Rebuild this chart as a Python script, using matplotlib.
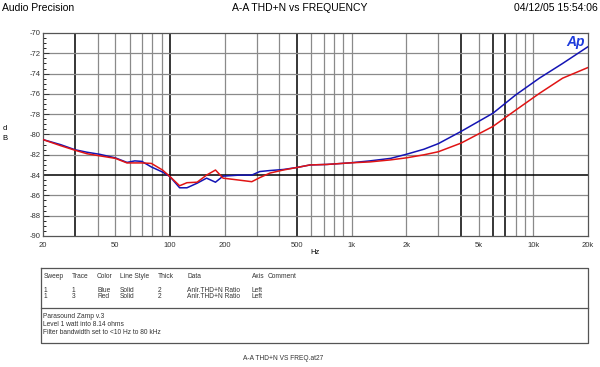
import matplotlib
matplotlib.use("Agg")
import matplotlib.pyplot as plt
import matplotlib.ticker as mticker

freq = [20, 25, 30, 35, 41, 50, 58, 64, 70, 79, 91, 100, 113, 124, 141, 159,
        178, 196, 242, 282, 312, 355, 420, 500, 590, 730, 970, 1260, 1640,
        2000, 2500, 3000, 4000, 6000, 8000, 10800, 14500, 20000]
blue = [-80.5, -81.0, -81.5, -81.75, -81.95, -82.3, -82.75, -82.6, -82.65,
        -83.2, -83.7, -84.15, -85.25, -85.25, -84.8, -84.3, -84.7, -84.1,
        -84.0, -84.0, -83.65, -83.55, -83.45, -83.25, -83.0, -82.95, -82.8,
        -82.6, -82.35, -81.95, -81.45, -80.9, -79.7, -77.9, -76.1, -74.45,
        -73.0, -71.35]
red = [-80.5, -81.1, -81.55, -81.9, -82.1, -82.35, -82.8, -82.8, -82.8,
       -82.85, -83.5, -84.15, -85.05, -84.75, -84.7, -84.0, -83.5, -84.3,
       -84.5, -84.65, -84.25, -83.8, -83.5, -83.25, -83.0, -82.95, -82.8,
       -82.7, -82.5, -82.3, -82.0, -81.7, -80.85, -79.2, -77.6, -75.95,
       -74.45, -73.4]

xticks = [20, 50, 100, 200, 500, 1000, 2000, 5000, 10000, 20000]
xticklabels = ['20', '50', '100', '200', '500', '1k', '2k', '5k', '10k', '20k']
yticks = list(range(-90, -69, 2))
# grid lines that come out heavy in the original printout
dark_v = [30, 100, 500, 4000, 6000, 7000]
dark_h = [-84]

header = ['Sweep', 'Trace', 'Color', 'Line Style', 'Thick', 'Data', 'Axis', 'Comment']
rows = [['1', '1', 'Blue', 'Solid', '2', 'Anlr.THD+N Ratio', 'Left', ''],
        ['1', '3', 'Red', 'Solid', '2', 'Anlr.THD+N Ratio', 'Left', '']]
notes = ['Parasound Zamp v.3', 'Level 1 watt into 8.14 ohms',
         'Filter bandwidth set to <10 Hz to 80 kHz']

plt.rcParams['font.family'] = ['Liberation Sans', 'DejaVu Sans']

W, H = 600, 367
fig = plt.figure(figsize=(W / 100, H / 100), dpi=100)

def fx(px):
    return px / W

def fy(py):
    return 1 - py / H

ax = fig.add_axes([fx(43), fy(236), fx(588 - 43), (236 - 33) / H])
ax.set_xscale('log')
ax.set_xlim(20, 20000)
ax.set_ylim(-90, -70)

#grid
vgrid = [m * d for d in (10, 100, 1000) for m in range(1, 10)] + [10000]
for v in vgrid:
    if 20 < v < 20000:
        dark = v in dark_v
        ax.axvline(v, color='black' if dark else '#8a8a8a',
                   lw=1.1 if dark else 0.9, zorder=1)
for h in yticks[1:-1]:
    dark = h in dark_h
    ax.axhline(h, color='black' if dark else '#8a8a8a',
               lw=1.1 if dark else 0.9, zorder=1)

ax.plot(freq, blue, color='#1414b4', lw=1.1, zorder=3)
ax.plot(freq, red, color='#e01414', lw=1.1, zorder=4)

ax.set_xticks(xticks)
ax.set_xticklabels(xticklabels)
ax.xaxis.set_minor_locator(mticker.NullLocator())
ax.set_yticks(yticks)
ax.set_yticklabels([str(t) for t in yticks])
ax.yaxis.set_minor_locator(mticker.MultipleLocator(0.5))
ax.tick_params(axis='x', length=0, labelsize=5.5, pad=4, colors='#333333')
ax.tick_params(axis='y', which='major', direction='in', length=4, width=0.7,
               labelsize=5.5, pad=2, colors='#333333')
ax.tick_params(axis='y', which='minor', direction='in', length=2.5, width=0.6)
for s in ax.spines.values():
    s.set_color('#555555')
    s.set_linewidth(0.9)

# header texts
fig.text(fx(2), fy(8), 'Audio Precision', fontsize=7.5, va='center', ha='left')
fig.text(fx(300), fy(8), 'A-A THD+N vs FREQUENCY', fontsize=7.5, va='center', ha='center')
fig.text(fx(598), fy(8), '04/12/05 15:54:06', fontsize=7.5, va='center', ha='right')
fig.text(fx(576), fy(42), 'Ap', fontsize=10, fontweight='bold', style='italic',
         color='#1e3cdc', va='center', ha='center')
fig.text(fx(5), fy(128), 'd', fontsize=5.5, ha='center', va='center')
fig.text(fx(5), fy(138), 'B', fontsize=5.5, ha='center', va='center')
fig.text(fx(315), fy(253), 'Hz', fontsize=5.5, ha='center', va='center')

# legend table
tb = fig.add_axes([0, 0, 1, 1], facecolor='none')
tb.set_xlim(0, W)
tb.set_ylim(H, 0)
tb.axis('off')
tb.plot([41, 588, 588, 41, 41], [268, 268, 343, 343, 268], color='#555555', lw=0.9)
tb.plot([41, 588], [308, 308], color='#555555', lw=0.9)
colx = [44, 72, 97, 120, 158, 187, 252, 268]
for cx, name in zip(colx, header):
    tb.text(cx, 277, name, fontsize=4.8, va='center', color='#333333')
for ry, row in zip([290, 297], rows):
    for cx, val in zip(colx, row):
        tb.text(cx, ry, val, fontsize=4.8, va='center', color='#333333')
for ny, line in zip([317, 325, 333], notes):
    tb.text(43, ny, line, fontsize=4.8, va='center', color='#333333')
tb.text(243, 358, 'A-A THD+N VS FREQ.at27', fontsize=4.8, va='center', color='#333333')

fig.savefig('out.png', dpi=100)
